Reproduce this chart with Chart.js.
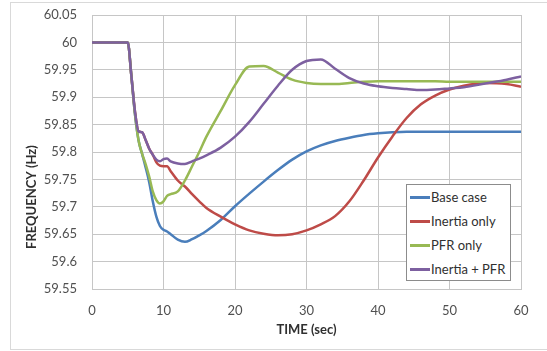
<!DOCTYPE html>
<html>
<head>
<meta charset="utf-8">
<script src="https://cdn.jsdelivr.net/npm/chart.js@4"></script>
<style>
  body { margin: 0; background: #fff; overflow: hidden; }
  #wrap { position: relative; width: 547px; height: 351px; overflow: hidden; }
  #frame { position: absolute; left: 10px; top: 2px; width: 560px; height: 346px; border: 1px solid #d9d9d9; }
  #legend { position: absolute; left: 406px; top: 184px; width: 103px; height: 95px;
    border: 1px solid #8c8c8c; background: #fff; font: 13px Lato, sans-serif; color: #303030; }
  .row { height: 24px; line-height: 24px; display: flex; align-items: center; }
  .swatch { width: 20px; height: 3px; margin-left: 3px; margin-right: 1px; }
</style>
</head>
<body>
<div id="wrap">
  <div id="frame"></div>
  <canvas id="chart" width="547" height="351"></canvas>
  <div id="legend"></div>
</div>
<script>
// time axis (sec) shared by all series
const timeSec = [0, 5, 5.5, 6, 6.5, 7, 7.5, 8, 8.5, 9, 9.5, 10, 10.5, 11, 12, 13, 14, 15, 16, 18,
  20, 22, 24, 26, 28, 30, 32, 34, 36, 38, 40, 42, 44, 46, 48, 50, 52, 55, 58, 60];

const baseCase = [60, 60, 59.94, 59.87, 59.822, 59.797, 59.772, 59.745, 59.71, 59.682, 59.665, 59.658,
  59.655, 59.65, 59.64, 59.636, 59.641, 59.648, 59.656, 59.676, 59.701, 59.724, 59.746, 59.767, 59.786,
  59.801, 59.812, 59.82, 59.826, 59.831, 59.834, 59.836, 59.837, 59.837, 59.837, 59.837, 59.837, 59.837,
  59.837, 59.837];

const inertiaOnly = [60, 60, 59.94, 59.875, 59.838, 59.836, 59.822, 59.806, 59.795, 59.781, 59.775, 59.774,
  59.774, 59.765, 59.748, 59.737, 59.723, 59.71, 59.698, 59.682, 59.668, 59.657, 59.651, 59.648, 59.65,
  59.657, 59.668, 59.683, 59.71, 59.748, 59.79, 59.828, 59.862, 59.887, 59.903, 59.914, 59.921, 59.926,
  59.924, 59.919];

const pfrOnly = [60, 60, 59.94, 59.87, 59.822, 59.797, 59.778, 59.755, 59.728, 59.712, 59.706, 59.71,
  59.72, 59.723, 59.728, 59.748, 59.774, 59.8, 59.828, 59.875, 59.922, 59.956, 59.957, 59.945, 59.932,
  59.926, 59.924, 59.924, 59.926, 59.928, 59.929, 59.929, 59.929, 59.929, 59.929, 59.928, 59.928, 59.928,
  59.928, 59.928];

const inertiaPfr = [60, 60, 59.94, 59.875, 59.838, 59.836, 59.822, 59.806, 59.795, 59.786, 59.783, 59.787,
  59.788, 59.783, 59.779, 59.778, 59.783, 59.788, 59.794, 59.808, 59.828, 59.855, 59.888, 59.921, 59.95,
  59.966, 59.969, 59.952, 59.935, 59.925, 59.92, 59.917, 59.915, 59.913, 59.914, 59.916, 59.918, 59.925,
  59.932, 59.938];

const seriesNames = ["Base case", "Inertia only", "PFR only", "Inertia + PFR"];
const seriesColors = ["#4a7ebb", "#be4b48", "#98b954", "#7d60a0"];
const yTicks = [59.55, 59.6, 59.65, 59.7, 59.75, 59.8, 59.85, 59.9, 59.95, 60, 60.05];
const xTicks = [0, 10, 20, 30, 40, 50, 60];

const font = "Lato, sans-serif";
const seriesValues = [baseCase, inertiaOnly, pfrOnly, inertiaPfr];

const datasets = seriesValues.map((vals, i) => ({
  label: seriesNames[i],
  data: timeSec.map((t, j) => ({ x: t, y: vals[j] })),
  borderColor: seriesColors[i],
  backgroundColor: seriesColors[i],
  borderWidth: 2.5,
  pointRadius: 0,
  cubicInterpolationMode: "monotone",
  order: 4 - i, // purple on top
}));

// y title sits lower than the axis middle in the original, so draw it by hand
const yTitlePlugin = {
  id: "yTitle",
  afterDraw(chart) {
    const ctx = chart.ctx;
    ctx.save();
    ctx.translate(32, 197);
    ctx.rotate(-Math.PI / 2);
    ctx.font = "bold 13px " + font;
    ctx.fillStyle = "#303030";
    ctx.textAlign = "center";
    ctx.textBaseline = "middle";
    ctx.fillText("FREQUENCY (Hz)", 0, 0);
    ctx.restore();
  },
};

new Chart(document.getElementById("chart"), {
  type: "line",
  data: { datasets: datasets },
  plugins: [yTitlePlugin],
  options: {
    responsive: false,
    animation: false,
    devicePixelRatio: 1,
    layout: { padding: { left: 25, top: 15, right: 26, bottom: 13 } },
    plugins: { legend: { display: false }, tooltip: { enabled: false } },
    scales: {
      x: {
        type: "linear",
        min: 0,
        max: 60,
        afterBuildTicks: (s) => { s.ticks = xTicks.map((v) => ({ value: v })); },
        afterFit: (s) => { s.height = 49; s.paddingLeft = 0; s.paddingRight = 0; },
        grid: { color: "#c6c6c6", drawTicks: false },
        border: { color: "#c6c6c6" },
        ticks: { color: "#505050", font: { family: font, size: 13 }, padding: 14, maxRotation: 0 },
        title: { display: true, text: "TIME (sec)", color: "#303030", font: { family: font, size: 13, weight: "bold" }, padding: 0 },
      },
      y: {
        min: 59.55,
        max: 60.05,
        afterBuildTicks: (s) => { s.ticks = yTicks.map((v) => ({ value: v })); },
        afterFit: (s) => { s.width = 67; s.paddingTop = 0; s.paddingBottom = 0; },
        grid: { color: "#c6c6c6", drawTicks: false },
        border: { color: "#c6c6c6" },
        ticks: {
          color: "#505050",
          font: { family: font, size: 13 },
          padding: 15,
          callback: (v) => String(parseFloat(Number(v).toFixed(2))),
        },
      },
    },
  },
});

// legend box drawn as html, built from the same series lists
const legend = document.getElementById("legend");
seriesNames.forEach((name, i) => {
  const row = document.createElement("div");
  row.className = "row";
  row.innerHTML = `<span class="swatch" style="background:${seriesColors[i]}"></span><span>${name}</span>`;
  legend.appendChild(row);
});
</script>
</body>
</html>
